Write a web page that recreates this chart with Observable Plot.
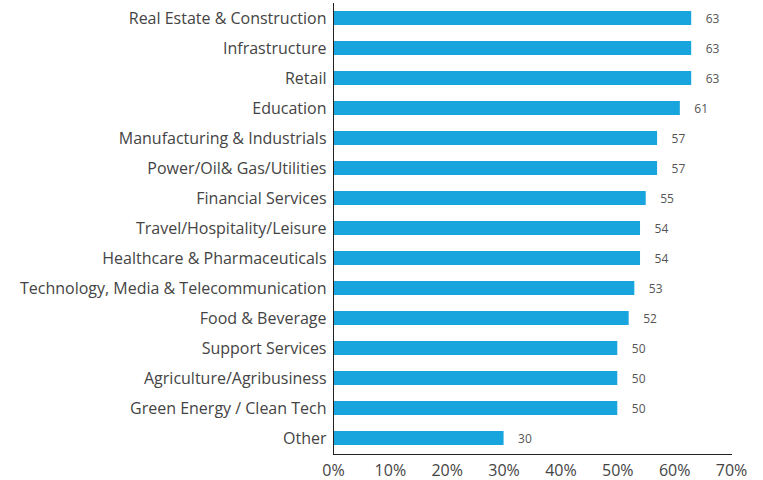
<!DOCTYPE html>
<html><head><meta charset="utf-8">
<script src="https://cdn.jsdelivr.net/npm/d3@7"></script>
<script src="https://cdn.jsdelivr.net/npm/@observablehq/plot@0.6"></script>
<style>body{margin:0;background:#fff}</style>
</head><body><div id="chart"></div>
<script>
const categories = ["Real Estate & Construction","Infrastructure","Retail","Education","Manufacturing & Industrials","Power/Oil& Gas/Utilities","Financial Services","Travel/Hospitality/Leisure","Healthcare & Pharmaceuticals","Technology, Media & Telecommunication","Food & Beverage","Support Services","Agriculture/Agribusiness","Green Energy / Clean Tech","Other"];
const values = [63,63,63,61,57,57,55,54,54,53,52,50,50,50,30];
const xTicks = [0,10,20,30,40,50,60,70];
const data = categories.map((c,i)=>({category:c, value:values[i]}));
const chart = Plot.plot({
  width: 763, height: 480,
  marginLeft: 333, marginRight: 32, marginTop: 3, marginBottom: 26,
  style: {fontFamily: "'Open Sans', sans-serif", color: "#444", background: "#fff"},
  x: {domain: [0,70]},
  y: {domain: categories, paddingInner: 0.53, paddingOuter: 0.28},
  marks: [
    Plot.barX(data, {x: "value", y: "category", fill: "#18a4dd"}),
    Plot.text(data, {x: "value", y: "category", text: d => String(d.value), textAnchor: "start", dx: 14, dy: 1, fontSize: 12, fill: "#555"}),
    Plot.axisY({tickSize: 0, tickPadding: 7, fontSize: 16, label: null}),
    Plot.axisX({ticks: xTicks, tickFormat: d => d + "%", tickSize: 0, tickPadding: 10, fontSize: 16, label: null}),
    Plot.frame({anchor: "left", stroke: "#222"}),
    Plot.frame({anchor: "bottom", stroke: "#222"})
  ]
});
document.getElementById("chart").append(chart);
</script></body></html>
